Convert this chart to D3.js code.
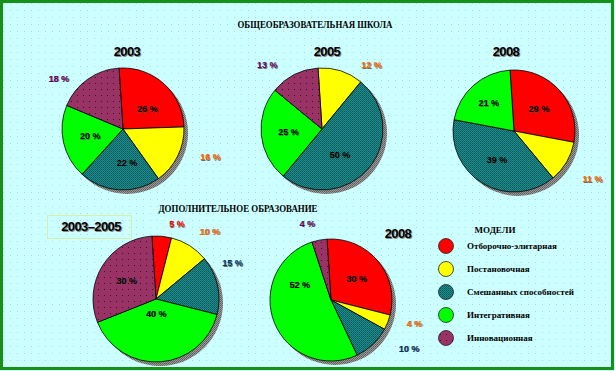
<!DOCTYPE html>
<html><head><meta charset="utf-8">
<script src="https://cdn.jsdelivr.net/npm/d3@7"></script>
<style>body{margin:0;background:#fff}svg{display:block}</style>
</head><body>
<svg id="c" width="615" height="371"></svg>
<script>
// ---- data ----
const models = ["Отборочно-элитарная","Постановочная","Смешанных способностей","Интегративная","Инновационная"];
const pieTitles = ["2003","2005","2008","2003–2005","2008"];
const school2003 = [26,16,22,20,18];
const school2005 = [0,12,50,25,13];
const school2008 = [29,11,39,21,0];
const extra2003_2005 = [5,10,15,40,30];
const extra2008 = [30,4,10,52,4];
const mainTitle = "ОБЩЕОБРАЗОВАТЕЛЬНАЯ ШКОЛА";
const subTitle = "ДОПОЛНИТЕЛЬНОЕ ОБРАЗОВАНИЕ";
const legendTitle = "МОДЕЛИ";

// ---- style/layout ----
const fills = ["#FF0000","#FFFF00","url(#teal)","#00FF00","url(#plum)"];
const outColors = ["#FF0000","#FF6600","#003366","#006600","#660066"];
// label nudges (layout tweaks mimicking the original label placement), keyed by slice index
const layout = [
  {cx:123, cy:129, r:61, tx:127, ty:52, nudge:{0:[2,5],1:[13,-9],2:[6,0],4:[-16,17]}},
  {cx:322, cy:129, r:61, tx:327, ty:52, nudge:{1:[24,15],2:[-8,5],4:[-17,10]}},
  {cx:514, cy:131, r:61, tx:506, ty:52, nudge:{1:[7,6],3:[-3,-3]}},
  {cx:156, cy:299, r:63, tx:91,  ty:227, box:true, nudge:{1:[8,5],0:[13,10],2:[-7,-17],3:[-2,-20]}},
  {cx:331, cy:300, r:61, tx:398, ty:234, nudge:{1:[6,-7],2:[21,-12],3:[0,-28],4:[-8,5]}}
];
const series = [school2003, school2005, school2008, extra2003_2005, extra2008];

const svg = d3.select("#c");
const defs = svg.append("defs");
let p = defs.append("pattern").attr("id","bg").attr("width",7).attr("height",7).attr("patternUnits","userSpaceOnUse");
p.append("rect").attr("width",7).attr("height",7).attr("fill","#CCFFFF");
p.append("rect").attr("x",3).attr("y",3).attr("width",1).attr("height",1).attr("fill","#99DDEE");
p = defs.append("pattern").attr("id","teal").attr("width",2).attr("height",2).attr("patternUnits","userSpaceOnUse");
p.append("rect").attr("width",2).attr("height",2).attr("fill","#1E8C8C");
p.append("rect").attr("width",1).attr("height",1).attr("fill","#0A5858");
p.append("rect").attr("x",1).attr("y",1).attr("width",1).attr("height",1).attr("fill","#0E6A6A");
p = defs.append("pattern").attr("id","plum").attr("width",6).attr("height",6).attr("patternUnits","userSpaceOnUse");
p.append("rect").attr("width",6).attr("height",6).attr("fill","#993366");
p.append("rect").attr("x",2).attr("y",2).attr("width",1).attr("height",1).attr("fill","#3A1028");
p = defs.append("pattern").attr("id","shad").attr("width",2).attr("height",2).attr("patternUnits","userSpaceOnUse");
p.append("rect").attr("width",2).attr("height",2).attr("fill","#9A9A9A");
p.append("rect").attr("width",1).attr("height",1).attr("fill","#5A5A5A");
p.append("rect").attr("x",1).attr("y",1).attr("width",1).attr("height",1).attr("fill","#6A6A6A");

svg.append("rect").attr("x",0).attr("y",0).attr("width",615).attr("height",371).attr("fill","url(#bg)");
svg.append("rect").attr("x",1.5).attr("y",1.5).attr("width",611).attr("height",367)
  .attr("fill","none").attr("stroke","#179017").attr("stroke-width",3);

svg.append("text").attr("x",315).attr("y",28).attr("text-anchor","middle")
  .attr("font-family","Liberation Serif").attr("font-weight","bold").attr("font-size",10)
  .attr("textLength",155).attr("lengthAdjust","spacingAndGlyphs").attr("fill","#000").text(mainTitle);
svg.append("text").attr("x",238).attr("y",212).attr("text-anchor","middle")
  .attr("font-family","Liberation Serif").attr("font-weight","bold").attr("font-size",10)
  .attr("textLength",159).attr("lengthAdjust","spacingAndGlyphs").attr("fill","#000").text(subTitle);

const pie = d3.pie().sort(null).value(d=>d).startAngle(-0.065).endAngle(2*Math.PI-0.065);

series.forEach((vals,i)=>{
  const L = layout[i];
  const g = svg.append("g").attr("transform",`translate(${L.cx},${L.cy})`);
  const arcs = pie(vals).map((a,k)=>Object.assign(a,{k})).filter(a=>a.data>0);
  const arc = d3.arc().innerRadius(0).outerRadius(L.r);
  g.append("circle").attr("cx",4).attr("cy",4).attr("r",L.r).attr("fill","url(#shad)");
  g.selectAll("path.s").data(arcs).join("path").attr("class","s")
    .attr("d",arc).attr("fill",d=>fills[d.k]).attr("stroke","#000").attr("stroke-width",0.8);
  const inArc = d3.arc().innerRadius(0).outerRadius(L.r*1.1);
  const outArc = d3.arc().innerRadius(L.r*1.36).outerRadius(L.r*1.36);
  const labs = g.selectAll("g.l").data(arcs).join("g").attr("class","l")
    .attr("transform",d=>{
      const c=(d.data<19?outArc:inArc).centroid(d);
      const n=(L.nudge&&L.nudge[d.k])||[0,0];
      return `translate(${c[0]+n[0]},${c[1]+n[1]})`;});
  labs.append("text").attr("x",0.7).attr("y",0.7).attr("text-anchor","middle").attr("dy","0.35em")
    .attr("font-family","Liberation Sans").attr("font-weight","bold").attr("font-size",9)
    .attr("fill",d=>d.data<19?"#331100":"#555").attr("opacity",0.6).text(d=>d.data+" %");
  labs.append("text").attr("text-anchor","middle").attr("dy","0.35em")
    .attr("font-family","Liberation Sans").attr("font-weight","bold").attr("font-size",9)
    .attr("fill",d=>d.data<19?outColors[d.k]:"#000").text(d=>d.data+" %");
  if(L.box){
    svg.append("rect").attr("x",47.5).attr("y",215.5).attr("width",84).attr("height",23)
      .attr("fill","none").attr("stroke","#D8EFA8").attr("stroke-width",1);
  }
  svg.append("text").attr("x",L.tx+1).attr("y",L.ty+5).attr("text-anchor","middle")
    .attr("font-family","Liberation Sans").attr("font-weight","bold").attr("font-size",13)
    .attr("letter-spacing",-0.6).attr("fill","#888").text(pieTitles[i]);
  svg.append("text").attr("x",L.tx).attr("y",L.ty+4).attr("text-anchor","middle")
    .attr("font-family","Liberation Sans").attr("font-weight","bold").attr("font-size",13)
    .attr("letter-spacing",-0.6).attr("fill","#000").text(pieTitles[i]);
});

const lg = svg.append("g");
lg.append("text").attr("x",495).attr("y",233).attr("text-anchor","middle")
  .attr("font-family","Liberation Serif").attr("font-weight","bold").attr("font-size",9)
  .attr("fill","#000").text(legendTitle);
const ly = d3.scalePoint().domain(models).range([246,338]);
const items = lg.selectAll("g.it").data(models).join("g").attr("class","it")
  .attr("transform",d=>`translate(0,${ly(d)})`);
items.append("circle").attr("cx",446).attr("cy",0).attr("r",7.5)
  .attr("fill",(d,i)=>fills[i]).attr("stroke","#222").attr("stroke-width",0.8);
items.append("text").attr("x",467).attr("y",3).attr("font-family","Liberation Serif")
  .attr("font-weight","bold").attr("font-size",9).attr("fill","#000").text(d=>d);
</script>
</body></html>
